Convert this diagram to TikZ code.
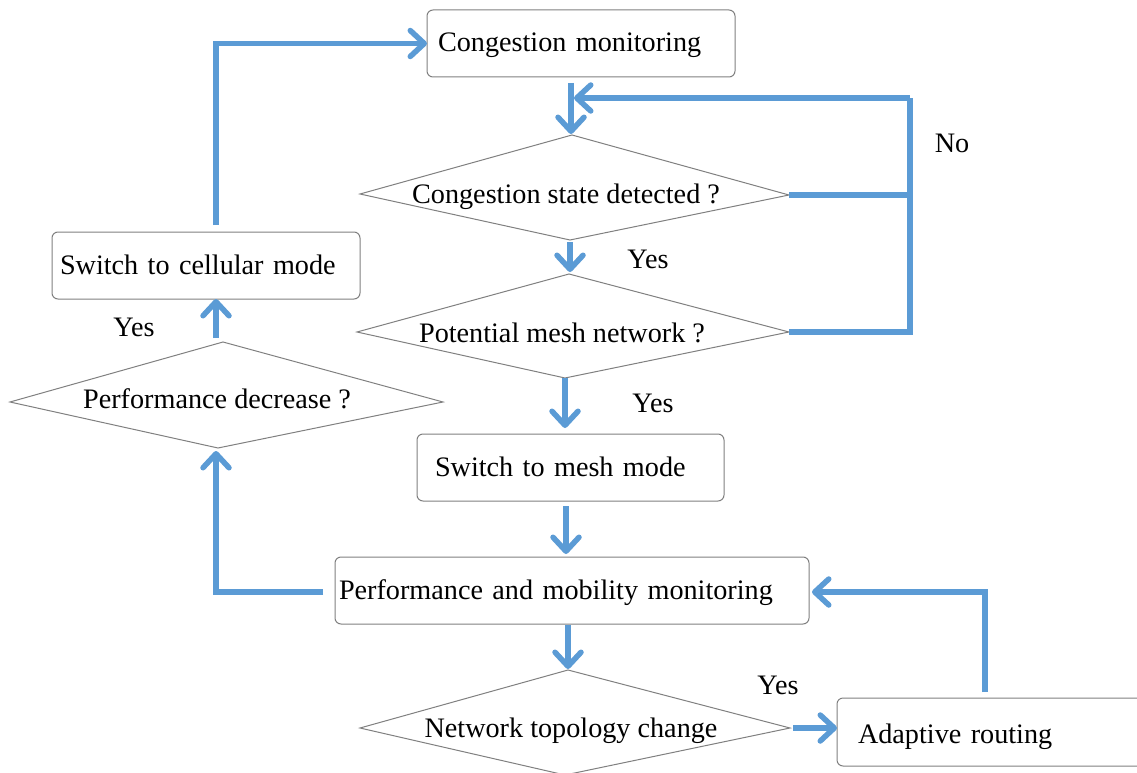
\documentclass[tikz,border=0pt]{standalone}
\usepackage{fontspec}
\setmainfont{Liberation Serif}
\usetikzlibrary{arrows.meta}
\definecolor{flowblue}{HTML}{5B9BD5}
\definecolor{boxgray}{HTML}{808080}
\tikzset{
  box/.style={draw=boxgray, line width=1pt, rounded corners=6pt, anchor=north west,
    align=left, text height=21pt, text depth=4pt, inner ysep=0pt, outer sep=0pt},
  dtext/.style={inner sep=0pt, text height=21pt, text depth=4pt},
  dshape/.style={draw=boxgray, line width=1pt},
  flow/.style={draw=flowblue, line width=5.5pt, -{Straight Barb[round,length=14pt,width=26pt]}},
  flowline/.style={draw=flowblue, line width=5.5pt},
  lbl/.style={anchor=base, inner sep=0pt},
}
\begin{document}
\begin{tikzpicture}[x=1pt,y=-1pt]
\fontsize{28.2}{34}\selectfont
\clip (0,0) rectangle (1137,773);
\fill[white] (0,0) rectangle (1137,773);

% boxes
\node[box, minimum width=308pt, minimum height=67pt, inner xsep=11pt, text width=286pt] (cong) at (427,10) {Congestion monitoring};
\node[box, minimum width=308pt, minimum height=67pt, inner xsep=8pt, text width=292pt] (cell) at (52,232) {Switch to cellular mode};
\node[box, minimum width=307pt, minimum height=67pt, inner xsep=18pt, text width=271pt] (mesh) at (417,434) {Switch to mesh mode};
\node[box, minimum width=474pt, minimum height=67pt, inner xsep=4pt, text width=466pt] (perf) at (335,557) {Performance and mobility monitoring};
\node[box, minimum width=330pt, minimum height=68pt, inner xsep=21pt, text width=288pt, text height=24pt, text depth=2pt] (adapt) at (837,698) {Adaptive routing};

% diamonds
\coordinate (d1t) at (572,135); \coordinate (d1r) at (789,195);
\coordinate (d1b) at (570,240); \coordinate (d1l) at (360,194);
\draw[dshape] (d1t) -- (d1r) -- (d1b) -- (d1l) -- cycle;
\node[dtext] (d1) at (566,194.5) {Congestion state detected ?};

\coordinate (d2t) at (569,274); \coordinate (d2r) at (789,332);
\coordinate (d2b) at (565,378); \coordinate (d2l) at (357,332);
\draw[dshape] (d2t) -- (d2r) -- (d2b) -- (d2l) -- cycle;
\node[dtext] (d2) at (562,333.5) {Potential mesh network ?};

\coordinate (d3t) at (223,342); \coordinate (d3r) at (443,402);
\coordinate (d3b) at (218,448); \coordinate (d3l) at (10,402);
\draw[dshape] (d3t) -- (d3r) -- (d3b) -- (d3l) -- cycle;
\node[dtext] (d3) at (217,399.5) {Performance decrease ?};

\coordinate (d4t) at (568,670); \coordinate (d4r) at (790,728);
\coordinate (d4b) at (565,775); \coordinate (d4l) at (360,728);
\draw[dshape] (d4t) -- (d4r) -- (d4b) -- (d4l) -- cycle;
\node[dtext] (d4) at (571,728.5) {Network topology change};

% helper coordinates
\coordinate (xl) at (216,0);
\coordinate (xc) at (571,0);
\coordinate (xm) at (566,0);
\coordinate (loopTop) at (910,98);
\coordinate (xr) at (985,0);

% connectors
\draw[flow, shorten <=7pt] (xl |- cell.north) |- (cong.west);
\draw[flow, shorten <=6pt, shorten >=1pt] (xc |- cong.south) -- (xc |- d1t);
\draw[flowline] (d1r) -- (d1r -| loopTop);
\draw[flowline] (d2r) -| (loopTop);
\draw[flow, shorten >=3pt] (loopTop) -- (loopTop -| xc);
\draw[flow, shorten <=2pt, shorten >=2pt] (d1b) -- (d1b |- d2t);
\draw[flow, shorten >=6pt] (d2b) -- (d2b |- mesh.north);
\draw[flow, shorten <=5pt, shorten >=3pt] (xm |- mesh.south) -- (xm |- perf.north);
\draw[flow, shorten <=1pt, shorten >=1pt] (d4t |- perf.south) -- (d4t);
\draw[flow, shorten <=12pt, shorten >=3pt] ([yshift=-1.5pt]perf.west) -| (xl |- d3b);
\draw[flow, shorten <=3pt] (d4r) -- (d4r -| adapt.west);
\draw[flow, shorten <=6pt, shorten >=3pt] (xr |- adapt.north) |- ([yshift=-1.5pt]perf.east);
\draw[flow, shorten <=4pt] (xl |- d3t) -- (xl |- cell.south);

% labels
\node[lbl] (no)   at (952,152) {No};
\node[lbl] (yes1) at (648,268) {Yes};
\node[lbl] (yes2) at (653,412) {Yes};
\node[lbl] (yes3) at (134,336) {Yes};
\node[lbl] (yes4) at (778,694) {Yes};
\end{tikzpicture}
\end{document}
